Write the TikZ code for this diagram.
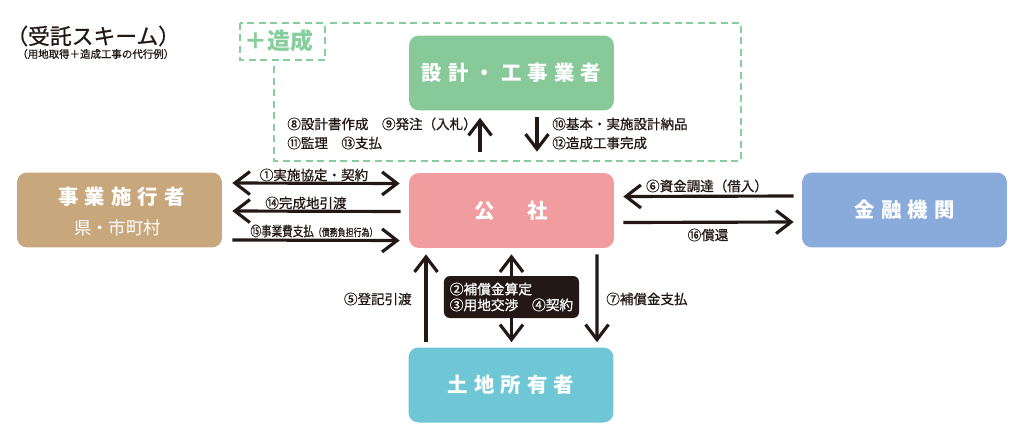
\documentclass[tikz,border=0pt]{standalone}
\usepackage{fontspec}
\newfontfamily\jpfont{Noto Sans CJK JP}
\newfontfamily\jpmid[FakeBold=0.8]{Noto Sans CJK JP}
\newfontfamily\jpwide[LetterSpace=30]{Noto Sans CJK JP}
\usepackage{xcolor}
\usetikzlibrary{arrows.meta,calc,positioning}

\definecolor{inkblack}{HTML}{231815}
\definecolor{sekkeigreen}{HTML}{88C99A}
\definecolor{koshapink}{HTML}{F19C9F}
\definecolor{jigyotan}{HTML}{C8A77D}
\definecolor{kinyublue}{HTML}{88ABDB}
\definecolor{tochicyan}{HTML}{6FC7D6}
\definecolor{framegreen}{HTML}{88CE9C}

\begin{document}
\begin{tikzpicture}[x=0.02cm,y=-0.02cm,
  box/.style={rounded corners=0.2cm, minimum width=4.1cm, minimum height=1.5cm, text=white, font=\jpwide\bfseries\fontsize{11.6}{13}\selectfont},
  tip/.style={Straight Barb[length=0.3cm,width=0.46cm]},
  arr/.style={line width=1.8pt, draw=inkblack, -{Straight Barb[length=0.3cm,width=0.46cm]}},
  arrboth/.style={line width=1.8pt, draw=inkblack, {Straight Barb[length=0.3cm,width=0.46cm]}-{Straight Barb[length=0.3cm,width=0.46cm]}},
  lbl/.style={inner sep=0pt, text=inkblack, font=\jpmid\fontsize{7.7}{10}\selectfont},
  dashframe/.style={draw=framegreen, line width=1.6pt, dash pattern=on 0.14cm off 0.09cm}]

\useasboundingbox (0,0) rectangle (1024,433);

% Title
\node[anchor=west, inner sep=0pt, text=inkblack, font=\jpmid\fontsize{12.4}{14}\selectfont] (title) at (6,36) {（受託スキーム）};
\node[anchor=west, inner sep=0pt, text=inkblack, font=\jpmid\fontsize{5.95}{7}\selectfont] (subtitle) at (17,54) {（用地取得＋造成工事の代行例）};

% Dashed frame
\draw[dashframe] (330,23) -- (741,23) -- (741,161) -- (274,161) -- (274,65);
\draw[dashframe] (240,23) rectangle (325,60);
\node[inner sep=0pt, text=framegreen, font=\jpfont\bfseries\fontsize{13}{15}\selectfont] (zosei) at (279,41) {＋造成};

% Boxes
\node[box, fill=sekkeigreen] (sekkei) at (511.5,73) {設計・工事業者};
\node[box, fill=koshapink] (kosha) at (511.5,210.5) {公　社};
\node[box, fill=jigyotan] (jigyo) at (119.5,210) {};
\node[text=white, font=\jpwide\bfseries\fontsize{11.6}{13}\selectfont] (jigyoname) at ($(jigyo.center)+(2,-13)$) {事業施行者};
\node[text=white, font=\jpfont\fontsize{9.9}{11}\selectfont] (jigyosub) at ($(jigyo.center)+(-2,18)$) {県・市町村};
\node[box, fill=kinyublue] (kinyu) at (904.5,210) {金融機関};
\node[box, fill=tochicyan] (tochi) at (511,385) {土地所有者};

% Arrows left
\draw[arrboth] ($(jigyo.east)+(10,-27)$) -- ($(kosha.west)+(-9,-27)$);
\draw[arr] ($(kosha.west)+(-8,1)$) -- ($(jigyo.east)+(10,1)$);
\draw[arr] ($(jigyo.east)+(10,30)$) -- ($(kosha.west)+(-9,30)$);

% Arrows right
\draw[arr] ($(kinyu.west)+(-8,-14)$) -- ($(kosha.east)+(9,-14)$);
\draw[arr] ($(kosha.east)+(9,12)$) -- ($(kinyu.west)+(-8,12)$);

% Arrows top
\draw[arr] ($(kosha.north)+(-31.5,-21)$) -- ($(sekkei.south)+(-31.5,7)$);
\draw[arr] ($(sekkei.south)+(25.5,6)$) -- ($(kosha.north)+(25.5,-21)$);

% Arrows bottom
\draw[arr] ($(tochi.north)+(-85,-5)$) -- ($(kosha.south)+(-85.5,6)$);
\draw[arrboth] ($(kosha.south)+(0,6)$) -- ($(tochi.north)+(0.5,-5)$);
\draw[arr] ($(kosha.south)+(85.5,6)$) -- ($(tochi.north)+(86,-5)$);

% Black box
\node[fill=inkblack, rounded corners=0.12cm, minimum width=2.7cm, minimum height=0.84cm, text=white, align=left, font=\jpmid\fontsize{7.8}{9}\selectfont] (hosho) at (511.5,297) {②補償金算定\\③用地交渉　④契約};

% Labels
\node[lbl] (l1) at (314,175) {①実施協定・契約};
\node[lbl] (l14) at (306,203) {⑭完成地引渡};
\node[lbl] (l15) at (314,231) {\scalebox{0.78}[1]{⑮事業費支払{\fontsize{5.8}{7}\selectfont（債務負担行為）}}};
\node[lbl] (l6) at (707,186) {⑥資金調達（借入）};
\node[lbl] (l16) at (708,235) {⑯償還};
\node[lbl, anchor=west] (l8) at (287,124) {⑧設計書作成　⑨発注（入札）};
\node[lbl, anchor=west] (l11) at (287,143) {⑪監理　⑬支払};
\node[lbl, anchor=west] (l10) at (552,124) {⑩基本・実施設計納品};
\node[lbl, anchor=west] (l12) at (552,143) {⑫造成工事完成};
\node[lbl, anchor=east] (l5) at (412,299) {⑤登記引渡};
\node[lbl, anchor=west] (l7) at (606,299) {⑦補償金支払};

\end{tikzpicture}
\end{document}
